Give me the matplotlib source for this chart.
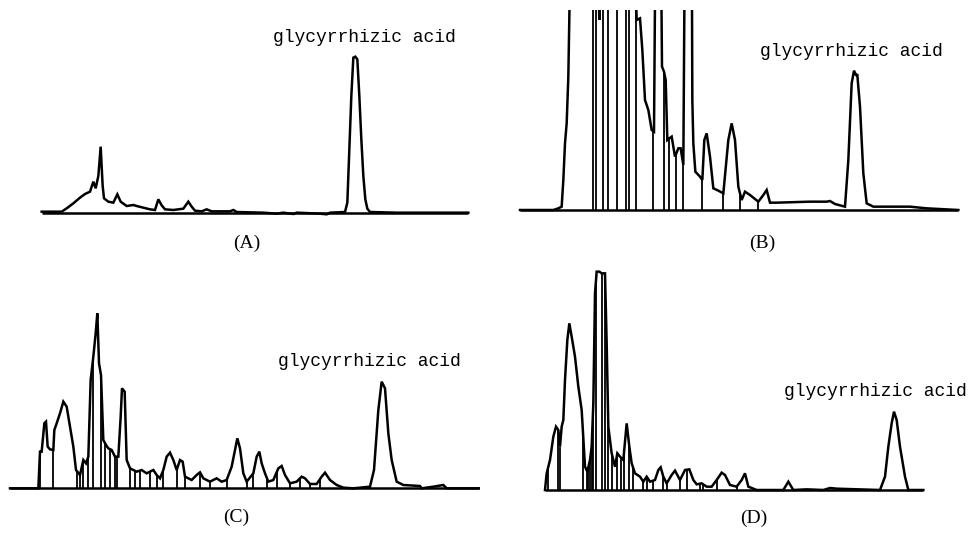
import numpy as np
import matplotlib
matplotlib.use("Agg")
import matplotlib.pyplot as plt

# chromatogram traces (time in scan units, signal above baseline)
a_time = [35, 95, 110, 130, 150, 165, 180, 190, 197, 205, 212, 218, 222, 235, 250, 262, 272, 290,
          310, 320, 340, 360, 375, 385, 395, 405, 430, 460, 475, 485, 495, 515, 530, 545, 600, 610,
          620, 700, 740, 760, 790, 800, 870, 890, 900, 945, 952, 958, 964, 970, 976, 982, 988, 994,
          1000, 1006, 1012, 1020, 1100, 1315]
a_signal = [3, 3, 13, 28, 45, 56, 63, 93, 73, 110, 198, 80, 43, 33, 30, 55, 33, 20,
            23, 20, 15, 10, 8, 40, 22, 10, 8, 12, 33, 18, 6, 4, 10, 4, 4, 8,
            2, 0, -3, 0, -4, 0, -3, -5, 0, 2, 30, 190, 350, 465, 468, 460, 350, 220,
            110, 40, 12, 2, 0, 0]

b_time = [30, 130, 145, 155, 160, 165, 170, 175, 180, 185, 260, 268, 275, 370, 380, 390, 397, 405,
          415, 425, 432, 437, 452, 456, 462, 467, 472, 478, 485, 495, 505, 512, 520, 525, 545, 547,
          550, 556, 570, 577, 583, 590, 600, 610, 625, 640, 655, 665, 675, 685, 695, 705, 720, 745,
          760, 770, 780, 800, 900, 950, 960, 975, 1005, 1015, 1025, 1032, 1038, 1042, 1050, 1060,
          1070, 1090, 1200, 1250, 1345]
b_signal = [0, 0, 5, 10, 90, 200, 260, 400, 700, 900, 900, 570, 900, 900, 570, 575, 480, 330,
            300, 240, 235, 900, 900, 430, 415, 390, 210, 215, 220, 160, 185, 185, 135, 900, 900, 330,
            200, 115, 100, 90, 210, 230, 160, 65, 58, 50, 210, 260, 210, 70, 30, 55, 45, 25,
            45, 60, 22, 22, 25, 25, 27, 18, 10, 150, 380, 418, 405, 405, 310, 110,
            20, 10, 10, 5, 0]

c_time = [30, 115, 120, 125, 133, 138, 143, 150, 160, 163, 170, 180, 190, 200, 210, 220, 228, 240,
          250, 258, 265, 272, 280, 287, 292, 297, 303, 310, 318, 325, 335, 345, 355, 362, 366, 374,
          380, 390, 400, 410, 425, 440, 460, 470, 480, 490, 500, 510, 520, 530, 540, 548, 555, 575,
          590, 600, 610, 630, 650, 665, 680, 695, 705, 712, 720, 730, 740, 760, 770, 778, 785, 795,
          805, 820, 835, 845, 855, 870, 890, 905, 915, 930, 950, 965, 975, 990, 1010, 1030, 1060,
          1110, 1122, 1135, 1145, 1155, 1165, 1175, 1190, 1210, 1260, 1265, 1300, 1330, 1340, 1437]
c_signal = [0, 0, 110, 110, 195, 200, 125, 117, 115, 175, 195, 225, 260, 245, 185, 125, 55, 40,
            85, 75, 95, 325, 395, 465, 525, 375, 340, 145, 130, 120, 115, 95, 95, 215, 300, 290,
            85, 60, 55, 50, 55, 45, 55, 40, 30, 55, 95, 107, 85, 55, 85, 80, 35, 25,
            40, 48, 30, 20, 30, 20, 25, 65, 115, 150, 120, 45, 20, 45, 95, 110, 75, 45,
            20, 25, 60, 67, 40, 15, 20, 35, 30, 13, 13, 35, 47, 25, 10, 2, 0,
            5, 55, 235, 320, 300, 165, 85, 20, 10, 7, 0, 5, 10, 0, 0]

d_time = [45, 50, 60, 70, 78, 85, 90, 95, 100, 105, 112, 118, 125, 135, 145, 155, 165, 172,
          180, 185, 190, 195, 200, 208, 215, 225, 230, 235, 245, 255, 262, 270, 280, 290, 298, 305,
          315, 330, 340, 350, 360, 375, 385, 392, 400, 410, 425, 435, 450, 465, 478, 490, 500, 515,
          530, 545, 560, 575, 585, 600, 620, 635, 645, 655, 680, 760, 775, 790, 830, 880, 900, 920,
          1050, 1065, 1075, 1085, 1092, 1100, 1110, 1125, 1135, 1180]
d_signal = [0, 50, 90, 160, 190, 180, 130, 190, 210, 330, 450, 500, 460, 400, 310, 240, 70, 55,
            90, 130, 260, 590, 655, 655, 650, 650, 440, 190, 110, 70, 110, 100, 90, 200, 130, 80,
            50, 40, 25, 40, 25, 30, 60, 68, 40, 20, 45, 58, 30, 60, 62, 30, 17, 20,
            10, 10, 30, 52, 45, 15, 10, 30, 50, 10, 0, 0, 25, 0, 2, 0, 6, 4,
            0, 40, 130, 200, 235, 210, 130, 40, 0, 0]

# integration drop lines
b_drops = [248, 258, 280, 295, 320, 348, 358, 378, 430, 462, 478, 497, 520, 575, 640, 690, 745]
c_drops = [120, 160, 230, 240, 250, 265, 280, 303, 315, 330, 345, 352, 390, 405, 420, 450, 470,
           490, 530, 555, 600, 630, 680, 740, 760, 800, 830, 870, 900, 930, 960]
d_drops = [55, 85, 90, 160, 170, 175, 180, 185, 190, 198, 215, 225, 235, 245, 262, 272, 282, 298,
           310, 340, 350, 370, 400, 410, 450, 470, 510, 520, 560, 620]

label = "glycyrrhizic acid"
captions = ["(A)", "(B)", "(C)", "(D)"]

W, H = 968, 536
fig = plt.figure(figsize=(W / 100, H / 100), dpi=100)


def panel(box, xlim, ylim, t, s, drops):
    # box is left, top, right, bottom in pixels
    l, tp, r, b = box
    ax = fig.add_axes([l / W, 1 - b / H, (r - l) / W, (b - tp) / H])
    ax.set_xlim(*xlim)
    ax.set_ylim(*ylim)
    ax.axis("off")
    t = np.array(t)
    s = np.array(s)
    ax.hlines(0, t[0], t[-1], color="black", lw=1.8)
    if drops:
        dh = np.interp(drops, t, s)
        ax.vlines(drops, 0, dh, color="black", lw=1.3)
    ax.plot(t, s, color="black", lw=1.8, solid_joinstyle="miter")
    return ax


panel((30, 40, 480, 230), (0, 1350), (-52, 518), a_time, a_signal, [])
panel((510, 10, 960, 230), (0, 1350), (-60, 600), b_time, b_signal, b_drops)
panel((0, 260, 480, 530), (0, 1440), (-125, 685), c_time, c_signal, c_drops)
panel((530, 260, 968, 530), (0, 1314), (-120, 690), d_time, d_signal, d_drops)

mono = dict(family="Liberation Mono", fontsize=13, color="black")
fig.text(364 / W, 1 - 38 / H, label, ha="center", va="center", **mono)
fig.text(851 / W, 1 - 51 / H, label, ha="center", va="center", **mono)
fig.text(369 / W, 1 - 361 / H, label, ha="center", va="center", **mono)
fig.text(967 / W, 1 - 392 / H, label, ha="right", va="center", **mono)

serif = dict(family="Liberation Serif", fontsize=14, color="black")
cap_pos = [(247, 243), (762, 243), (236, 517), (754, 518)]
for c, (x, y) in zip(captions, cap_pos):
    fig.text(x / W, 1 - y / H, c, ha="center", va="center", **serif)

fig.savefig("out.png", dpi=100, facecolor="white")
